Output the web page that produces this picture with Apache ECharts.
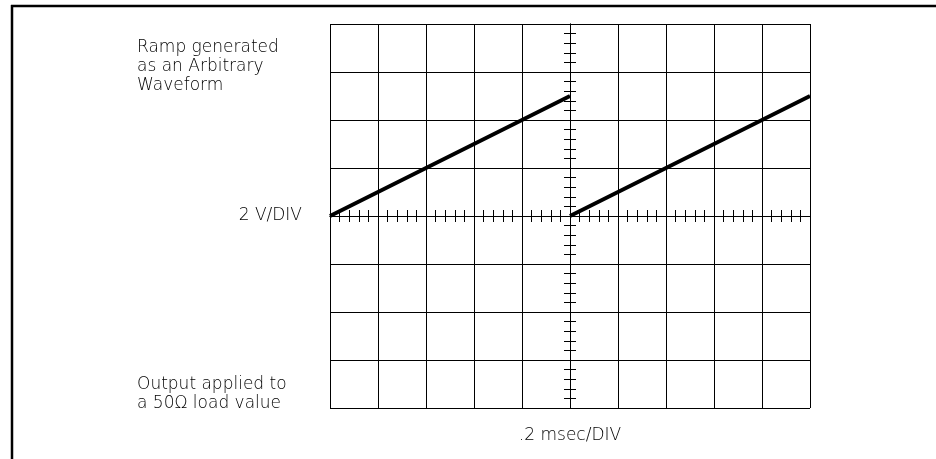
<!DOCTYPE html>
<html>
<head>
<meta charset="utf-8">
<script src="https://cdn.jsdelivr.net/npm/echarts@6/dist/echarts.min.js"></script>
<style>
  html, body { margin: 0; padding: 0; background: #fff; }
  #main { width: 936px; height: 459px; }
</style>
</head>
<body>
<div id="main"></div>
<script>
// time in msec, measured from the centre of the screen
var timeA = [-1.0, 0.0];
var voltA = [0, 5];
var timeB = [0.0, 1.0];
var voltB = [0, 5];
// screen span: 10 div x 0.2 msec, 8 div x 2 V
var timeRange = [-1.0, 1.0];
var voltRange = [-8, 8];
var timeDiv = 0.2;
var voltDiv = 2;

var topNote = ['Ramp generated', 'as an Arbitrary', 'Waveform'];
var bottomNote = ['Output applied to', 'a 50\u03a9 load value'];
var yUnit = '2 V/DIV';
var xUnit = '.2 msec/DIV';

function pairs(xs, ys) {
	var out = [];
	for (var i = 0; i < xs.length; i++) {
		out.push([xs[i], ys[i]]);
	}
	return out;
}

var chart = echarts.init(document.getElementById('main'), null, { renderer: 'canvas' });

var font = 'DejaVu Sans';
var txtStyle = {
	fontFamily: font,
	fontSize: 17,
	fontWeight: 'lighter',
	fill: '#000'
};

//中心刻度轴
function centreAxis(pos, range, step, withGrid) {
	return {
		type: 'value',
		position: pos,
		min: range[0],
		max: range[1],
		interval: step,
		axisLine: {
			show: true,
			onZero: true,
			onZeroAxisIndex: 0,
			lineStyle: { color: '#000', width: 1 }
		},
		axisTick: { show: true, length: 6, lineStyle: { color: '#000', width: 1 } },
		minorTick: { show: true, splitNumber: 5, length: 6, lineStyle: { color: '#000', width: 1 } },
		axisLabel: { show: false },
		splitLine: { show: withGrid, lineStyle: { color: '#000', width: 1 } },
		minorSplitLine: { show: false }
	};
}

var option = {
	animation: false,
	backgroundColor: '#fff',
	grid: {
		left: 330,
		top: 24,
		width: 480,
		height: 384,
		show: false
	},
	xAxis: [
		centreAxis('bottom', timeRange, timeDiv, true),
		centreAxis('top', timeRange, timeDiv, false)
	],
	yAxis: [
		centreAxis('left', voltRange, voltDiv, true),
		centreAxis('right', voltRange, voltDiv, false)
	],
	series: [{
		type: 'line',
		data: pairs(timeA, voltA),
		symbol: 'none',
		lineStyle: { color: '#000', width: 4 },
		z: 5
	}, {
		type: 'line',
		data: pairs(timeB, voltB),
		symbol: 'none',
		lineStyle: { color: '#000', width: 4 },
		z: 5
	}],
	graphic: [{
		type: 'line',
		shape: { x1: 11, y1: 6, x2: 936, y2: 6 },
		style: { stroke: '#000', lineWidth: 2.5 }
	}, {
		type: 'line',
		shape: { x1: 12, y1: 5, x2: 12, y2: 459 },
		style: { stroke: '#000', lineWidth: 2.5 }
	}, {
		type: 'text',
		x: 137,
		y: 38,
		style: echarts.util.extend({ text: topNote.join('\n'), lineHeight: 19, align: 'left', verticalAlign: 'top' }, txtStyle)
	}, {
		type: 'text',
		x: 137,
		y: 375,
		style: echarts.util.extend({ text: bottomNote.join('\n'), lineHeight: 19, align: 'left', verticalAlign: 'top' }, txtStyle)
	}, {
		type: 'text',
		x: 302,
		y: 207,
		style: echarts.util.extend({ text: yUnit, align: 'right', verticalAlign: 'top' }, txtStyle)
	}, {
		type: 'text',
		x: 570,
		y: 427,
		style: echarts.util.extend({ text: xUnit, align: 'center', verticalAlign: 'top' }, txtStyle)
	}]
};

chart.setOption(option);
</script>
</body>
</html>
